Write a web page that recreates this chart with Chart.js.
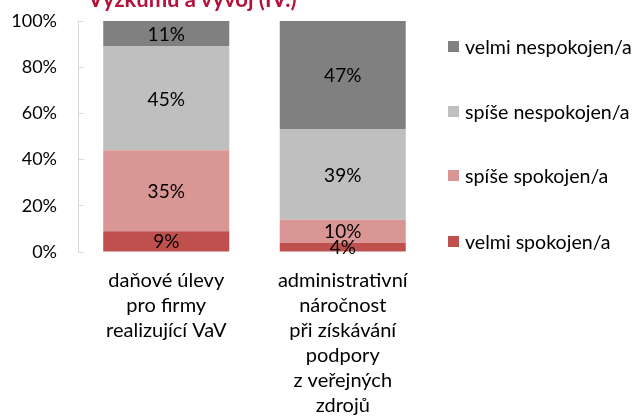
<!DOCTYPE html>
<html>
<head>
<meta charset="utf-8">
<script src="https://cdn.jsdelivr.net/npm/chart.js@4.4.1/dist/chart.umd.min.js"></script>
<style>
  html, body { margin: 0; padding: 0; background: #fff; }
  #wrap { position: relative; width: 640px; height: 417px; overflow: hidden; font-family: Lato, "Open Sans", sans-serif; }
  #title { position: absolute; left: 88px; top: -12px; font: bold 22px/22px Lato, sans-serif; color: #B5123A; white-space: nowrap; }
  #legend { position: absolute; left: 448px; top: 0; }
  .item { position: absolute; left: 0; height: 22px; display: flex; align-items: center; white-space: nowrap; font-size: 19.6px; color: #000; }
  .item span.box { width: 11px; height: 11px; margin-right: 6px; flex: none; }
</style>
</head>
<body>
<div id="wrap">
  <canvas id="chart" width="640" height="417"></canvas>
  <div id="title">Výzkumu a vývoj (IV.)</div>
  <div id="legend"></div>
</div>
<script>
// Categories (multi-line labels)
const categories = [
  ['daňové úlevy', 'pro firmy', 'realizující VaV'],
  ['administrativní', 'náročnost', 'při získávání', 'podpory', 'z veřejných', 'zdrojů']
];

// Series names, bottom to top
const seriesNames = ['velmi spokojen/a', 'spíše spokojen/a', 'spíše nespokojen/a', 'velmi nespokojen/a'];

// Series values in %
const velmiSpokojen = [9, 4];
const spiseSpokojen = [35, 10];
const spiseNespokojen = [45, 39];
const velmiNespokojen = [11, 47];

// Y axis ticks
const yTicks = [0, 20, 40, 60, 80, 100];

const seriesValues = [velmiSpokojen, spiseSpokojen, spiseNespokojen, velmiNespokojen];
const seriesColors = ['#C0504D', '#DA9694', '#BFBFBF', '#808080'];

const FONT = 'Lato';

// draws the value in the middle of each segment
const segmentLabels = {
  id: 'segmentLabels',
  afterDatasetsDraw(chart) {
    const ctx = chart.ctx;
    ctx.save();
    ctx.font = '19px ' + FONT;
    ctx.fillStyle = '#000';
    ctx.textAlign = 'center';
    ctx.textBaseline = 'middle';
    chart.data.datasets.forEach((ds, i) => {
      const meta = chart.getDatasetMeta(i);
      meta.data.forEach((bar, j) => {
        const y = (bar.y + bar.base) / 2;
        ctx.fillText(ds.data[j] + '%', bar.x, y + 1);
      });
    });
    ctx.restore();
  }
};

const chart = new Chart(document.getElementById('chart'), {
  type: 'bar',
  data: {
    labels: categories,
    datasets: seriesNames.map((name, i) => ({
      label: name,
      data: seriesValues[i],
      backgroundColor: seriesColors[i],
      borderWidth: 0,
      categoryPercentage: 1,
      barPercentage: 0.714
    }))
  },
  options: {
    responsive: false,
    devicePixelRatio: 1,
    animation: false,
    layout: { padding: { top: 21, right: 209, bottom: -9, left: 0 } },
    plugins: {
      legend: { display: false },
      title: { display: false },
      tooltip: { enabled: false }
    },
    scales: {
      x: {
        stacked: true,
        grid: { display: false },
        border: { display: false },
        ticks: {
          color: '#000',
          font: { family: FONT, size: 20, lineHeight: 1.25 },
          padding: 8,
          maxRotation: 0,
          autoSkip: false
        }
      },
      y: {
        stacked: true,
        min: 0,
        max: 100,
        afterBuildTicks(scale) {
          scale.ticks = yTicks.map(v => ({ value: v }));
        },
        afterFit(scale) {
          scale.width = 78;
          // tick padding is horizontal only here, keep the plot top where it belongs
          scale.paddingTop = 0;
          scale.paddingBottom = 0;
        },
        grid: {
          drawOnChartArea: false,
          color: '#D9D9D9',
          tickLength: -6
        },
        border: { display: true, color: '#D9D9D9', width: 1 },
        ticks: {
          color: '#000',
          font: { family: FONT, size: 18 },
          padding: 27,
          callback: v => v + '%'
        }
      }
    }
  },
  plugins: [segmentLabels]
});

// legend, top to bottom is reversed series order
const legendTops = [46, 111, 175, 241];
const legendEl = document.getElementById('legend');
seriesNames.slice().reverse().forEach((name, k) => {
  const idx = seriesNames.length - 1 - k;
  const item = document.createElement('div');
  item.className = 'item';
  item.style.top = (legendTops[k] - 11) + 'px';
  const box = document.createElement('span');
  box.className = 'box';
  box.style.background = seriesColors[idx];
  item.appendChild(box);
  item.appendChild(document.createTextNode(name));
  legendEl.appendChild(item);
});
</script>
</body>
</html>
